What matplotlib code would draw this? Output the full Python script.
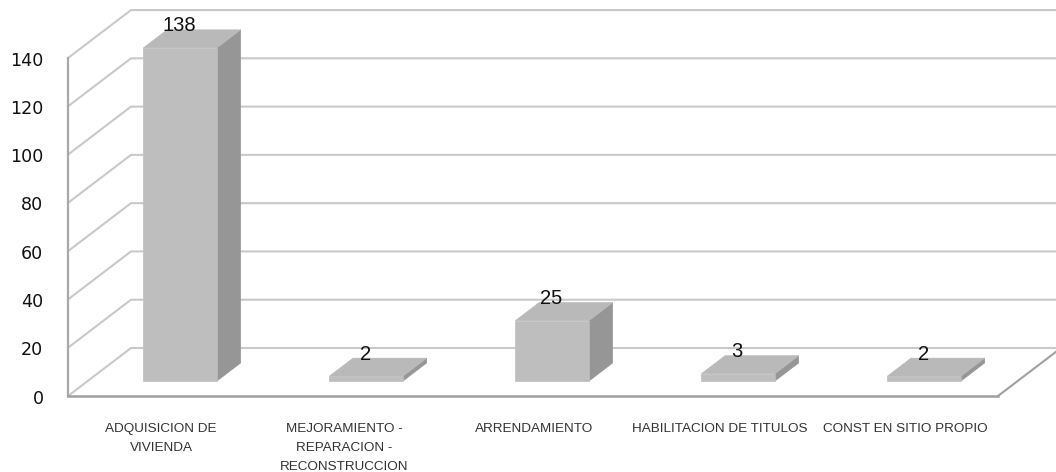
import matplotlib
matplotlib.use('Agg')
import matplotlib.pyplot as plt
from matplotlib.patches import Polygon

categorias = ['ADQUISICION DE\nVIVIENDA', 'MEJORAMIENTO -\nREPARACION -\nRECONSTRUCCION',
              'ARRENDAMIENTO', 'HABILITACION DE TITULOS', 'CONST EN SITIO PROPIO']
valores = [138, 2, 25, 3, 2]
ticks_y = [0, 20, 40, 60, 80, 100, 120, 140]

W, H = 1056, 472
PX_X = 186.0      # pixeles por categoria
PX_Y = 2.414      # pixeles por unidad
X0, Y0 = 68, 396  # origen del frente

# profundidad del piso, en unidades de datos
DX = 63 / PX_X
DY = 48 / PX_Y
ANCHO = 73.5 / PX_X
D_BASE = 15 / 48   # donde arranca la barra dentro del piso
D_FONDO = 33 / 48  # donde termina

GRID = '#c9c9c9'
EJE = '#a8a8a8'


def proy(x, y, d=0.0):
    # frente (d=0) a fondo (d=1)
    return x + DX * d, y + DY * d


fig = plt.figure(figsize=(W / 100, H / 100), dpi=100)
ax = fig.add_axes([0, 0, 1, 1])
ax.set_xlim(-X0 / PX_X, (W - X0) / PX_X)
ax.set_ylim(-(H - Y0) / PX_Y, Y0 / PX_Y)
ax.axis('off')

n = len(categorias)

# rejilla
for t in ticks_y:
    a = proy(0, t, 0)
    b = proy(0, t, 1)
    c = proy(n + 1, t, 1)
    ax.plot([a[0], b[0], c[0]], [a[1], b[1], c[1]], color=GRID, lw=1.5, zorder=1)

# ejes
ax.plot([0, 0], [0, ticks_y[-1]], color=EJE, lw=1.6, zorder=2)
ax.plot([0, n], [0, 0], color='#a0a0a0', lw=1.8, zorder=2)
p = proy(n, 0, 1)
ax.plot([n, p[0]], [0, p[1]], color='#a0a0a0', lw=1.5, zorder=2)

# barras
for i, v in enumerate(valores):
    cx = i + 0.5 - 0.5 / PX_X
    x1 = cx - ANCHO / 2
    x2 = cx + ANCHO / 2
    f11 = proy(x1, 0, D_BASE)
    f21 = proy(x2, 0, D_BASE)
    f12 = proy(x1, v, D_BASE)
    f22 = proy(x2, v, D_BASE)
    b21 = proy(x2, 0, D_FONDO)
    b22 = proy(x2, v, D_FONDO)
    b12 = proy(x1, v, D_FONDO)
    ax.add_patch(Polygon([f21, b21, b22, f22], fc='#969696', ec='#969696', lw=0.5, zorder=3))
    ax.add_patch(Polygon([f12, f22, b22, b12], fc='#b9b9b9', ec='#b9b9b9', lw=0.5, zorder=3))
    ax.add_patch(Polygon([f11, f21, f22, f12], fc='#bebebe', ec='#bebebe', lw=0.5, zorder=4))
    ax.text(f12[0] + ANCHO / 2 - 1 / PX_X, v + DY * D_FONDO + 1.7, str(v),
            ha='center', va='center', fontsize=14.5, family='Liberation Sans',
            color='#111111', zorder=5)

# etiquetas eje y
for t in ticks_y:
    ax.text(-24.5 / PX_X, t - 2.5 / PX_Y, str(t), ha='right', va='center', fontsize=12.6,
            family='DejaVu Sans', color='#111111')

# etiquetas de categorias
desplaza = [0, -3, 1, 1, 0]
for i, cat in enumerate(categorias):
    ax.text(i + 0.5 + desplaza[i] / PX_X, -27 / PX_Y, cat, ha='center', va='top', fontsize=9.7,
            family='Liberation Sans', color='#333333', linespacing=1.78)

fig.savefig('out.png', dpi=100)
